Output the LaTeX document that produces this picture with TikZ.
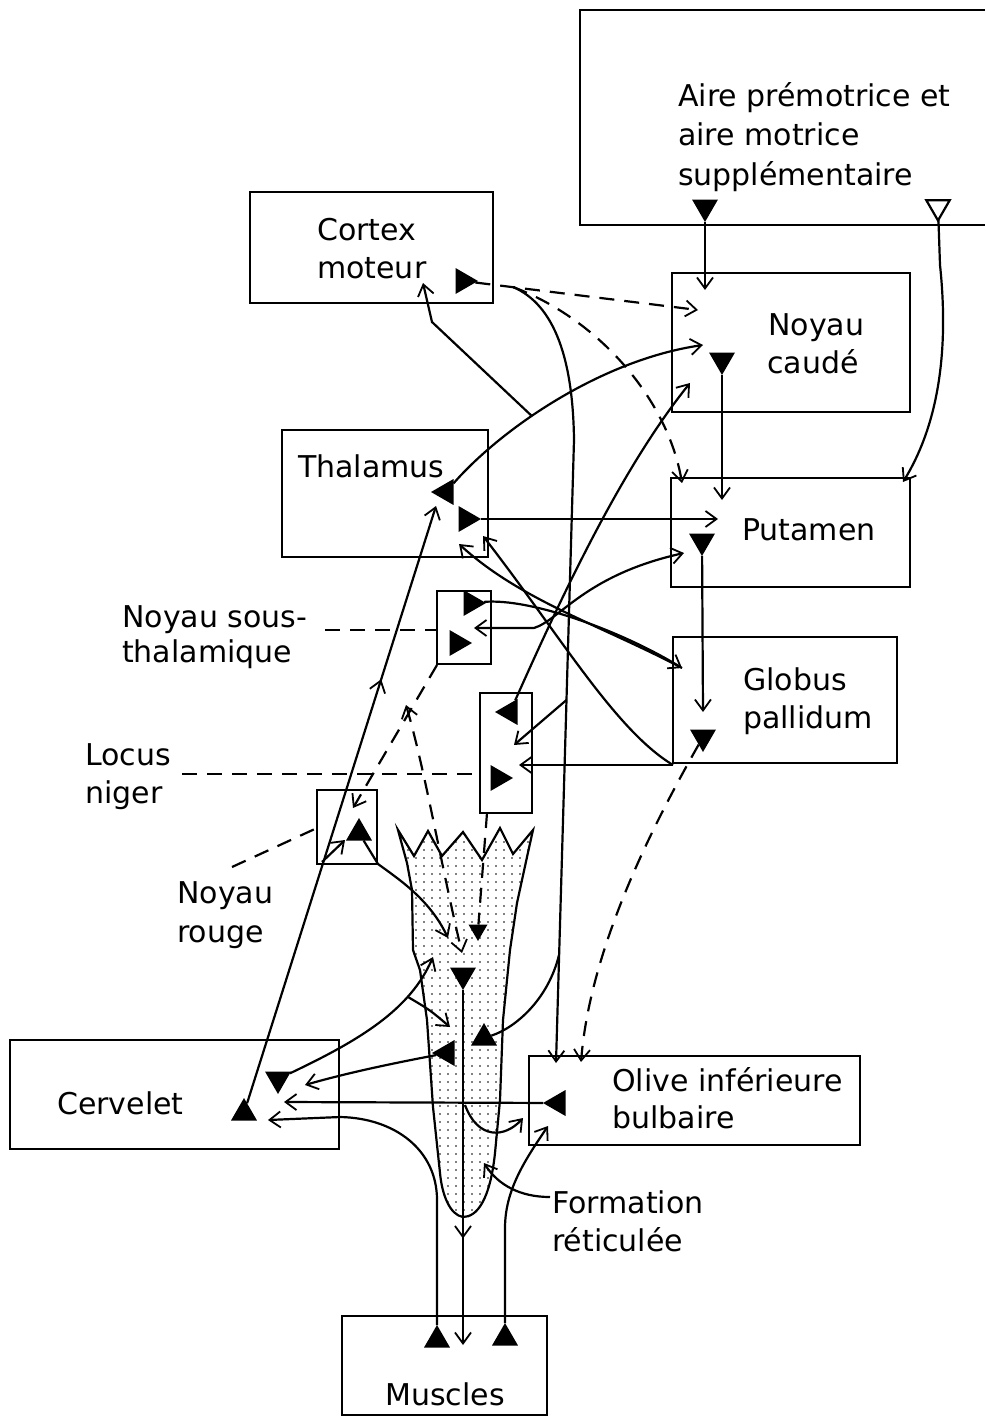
\documentclass[tikz,border=0pt]{standalone}
\usepackage{fontspec}
\setmainfont{DejaVu Sans}
\usetikzlibrary{arrows.meta,shapes.geometric,patterns.meta,decorations.markings}
\newcommand\bxnode[5]{%
  \pgfmathsetmacro\bxcx{(#2+#4)/2}\pgfmathsetmacro\bxcy{(#3+#5)/2}%
  \pgfmathsetmacro\bxw{#4-#2}\pgfmathsetmacro\bxh{#5-#3}%
  \node[box,minimum width=\bxw pt,minimum height=\bxh pt] (#1) at (\bxcx,\bxcy) {};}
\begin{document}
\begin{tikzpicture}[x=1pt,y=-1pt,
  box/.style={draw, line width=2.6pt, inner sep=0pt, outer sep=0pt},
  lbl/.style={font=\fontsize{30}{38}\selectfont, inner sep=0pt, anchor=base west},
  tip/.tip={Straight Barb[length=11pt,width=16pt,line width=1.8pt]},
  conn/.style={line width=2.2pt, -tip},
  conn2/.style={line width=2.2pt, tip-tip},
  plain/.style={line width=2.2pt},
  dsh/.style={dash pattern=on 15pt off 10pt},
  midarr/.style={postaction={decorate, decoration={markings, mark=at position #1 with {\arrow{tip}}}}},
  ftri/.style={regular polygon, regular polygon sides=3, fill=black, minimum size=30pt, inner sep=0pt, outer sep=0pt},
  htri/.style={regular polygon, regular polygon sides=3, draw, line width=2.2pt, fill=white, minimum size=27pt, inner sep=0pt, outer sep=0pt},
  down/.style={regular polygon rotate=180},
  left/.style={regular polygon rotate=90},
  right/.style={regular polygon rotate=-90},
]
\useasboundingbox (0,0) rectangle (985,1418);

% ---------- boxes ----------
\draw[line width=2.6pt] (985,10) -- (580,10) -- (580,225) -- (985,225);
\bxnode{cortex}{250}{192}{493}{303}
\bxnode{caude}{672}{273}{910}{412}
\bxnode{putamen}{671}{478}{910}{587}
\bxnode{thal}{282}{430}{488}{557}
\bxnode{globus}{673}{637}{897}{763}
\bxnode{stn}{437}{591}{491}{664}
\bxnode{ln}{480}{693}{532}{813}
\bxnode{nr}{317}{790}{377}{864}
\bxnode{cerv}{10}{1040}{339}{1149}
\bxnode{olive}{529}{1056}{860}{1145}
\bxnode{muscles}{342}{1316}{547}{1415}

% ---------- formation reticulee ----------
\draw[line width=2.2pt, pattern={Dots[distance=8pt,radius=0.9pt]}]
  (398,830) -- (414,856) -- (428,831) -- (442,856) -- (463,832) -- (482,860)
  -- (500,828) -- (513,854) -- (533,830) -- (527,857) -- (517,903) -- (510,950)
  -- (503,1020) -- (500,1100) -- (495,1153) .. controls (490,1200) and (477,1217) .. (463,1217)
  .. controls (450,1215) and (442,1195) .. (440,1173) -- (433,1107) -- (427,1020)
  -- (420,970) -- (413,950) -- (412,890) -- (407,863) -- cycle;

% ---------- triangles ----------
\node[ftri,down] (t1) at (705,207) {};
\node[htri,down] (t2) at (938,207) {};
\node[ftri,right] (t3) at (463,281) {};
\node[ftri,down] (t4) at (722,360) {};
\node[ftri,left] (t5) at (446,492) {};
\node[ftri,right] (t6) at (466,519) {};
\node[ftri,down] (t7) at (702,541) {};
\node[ftri,right] (t8) at (471,603) {};
\node[ftri,right] (t9) at (457,643) {};
\node[ftri,left] (t10) at (510,712) {};
\node[ftri,right] (t11) at (498,778) {};
\node[ftri,down] (t12) at (703,737) {};
\node[ftri,regular polygon rotate=120] (t13) at (359,833) {};
\node[ftri] (t14) at (244,1113) {};
\node[ftri,down] (t15) at (278,1079) {};
\node[ftri,down] (t16) at (463,975) {};
\node[ftri,left] (t17) at (447,1053) {};
\node[ftri] (t18) at (484,1038) {};
\node[ftri,left] (t19) at (558,1103) {};
\node[ftri] (t20) at (437,1340) {};
\node[ftri] (t21) at (505,1338) {};
\node[ftri,down,minimum size=22pt] (t22) at (478,930) {};

% ---------- coordinates ----------
\coordinate (c1e) at (705,290);
\coordinate (c2a) at (940,265);
\coordinate (c2e) at (903,482);
\coordinate (c3e) at (698,310);
\coordinate (j1) at (513,287);
\coordinate (c4e) at (682,483);
\coordinate (eA) at (574,440);
\coordinate (c5e) at (556,1063);
\coordinate (eLN) at (566.5,700);
\coordinate (eRF) at (559,955);
\coordinate (c6e) at (703,345);
\coordinate (c7m) at (432,322);
\coordinate (c7e) at (423,283);
\coordinate (c8e) at (718,519);
\coordinate (c9e) at (690,383);
\coordinate (c10e) at (703,712);
\coordinate (c11e) at (722,500);
\coordinate (c12e) at (682,668);
\coordinate (c13a) at (474,628);
\coordinate (c13m) at (534,628);
\coordinate (c13e) at (684,553);
\coordinate (c14a) at (673,765);
\coordinate (c14e) at (519,765);
\coordinate (c15e) at (483,536);
\coordinate (c16e) at (459,544);
\coordinate (c17e) at (436,506);
\coordinate (br2) at (322,862);
\coordinate (c18e) at (345,840);
\coordinate (c19a) at (437,665);
\coordinate (c19e) at (353,808);
\coordinate (c20a) at (406,705);
\coordinate (c20e) at (462,953);
\coordinate (c21a) at (487,813);
\coordinate (c22m) at (378,864);
\coordinate (c22e) at (448,938);
\coordinate (c23e) at (463,1345);
\coordinate (c24e) at (433,957);
\coordinate (c33e) at (450,1027);
\coordinate (c25e) at (305,1085);
\coordinate (c26e) at (284,1102);
\coordinate (c27m) at (437,1200);
\coordinate (c27n) at (340,1117);
\coordinate (c27e) at (268,1120);
\coordinate (c28m) at (505,1228);
\coordinate (c28e) at (548,1126);
\coordinate (c29a) at (465,1105);
\coordinate (c29e) at (523,1118);
\coordinate (c31e) at (581,1062);
\coordinate (c32e) at (514,745);
\coordinate (c34a) at (550,1197);
\coordinate (c34e) at (484,1163);
\coordinate (l1a) at (325,630);
\coordinate (l1b) at (437,630);
\coordinate (l2a) at (182,774);
\coordinate (l2b) at (480,774);
\coordinate (l3a) at (232,867);
\coordinate (l3b) at (317,828);

% ---------- connectors ----------
\draw[conn] (t1) -- (c1e);
\draw[conn] (t2) -- (c2a) .. controls (950,360) and (935,430) .. (c2e);
\draw[conn,dsh] (t3) -- (c3e);
\draw[conn,dsh] (j1) .. controls (600,320) and (668,400) .. (c4e);
\draw[conn] (j1) .. controls (555,305) and (573,360) .. (eA) -- (c5e);
\draw[conn] (t5) .. controls (500,430) and (600,360) .. coordinate[pos=0.4] (br) (c6e);
\draw[conn] (br) -- (c7m) -- (c7e);
\draw[conn] (t6) -- (c8e);
\draw[conn] (t10) .. controls (560,600) and (620,470) .. (c9e);
\draw[conn] (t7) -- (c10e);
\draw[conn] (t4) -- (c11e);
\draw[conn] (t8) .. controls (530,598) and (620,630) .. (c12e);
\draw[conn2] (c13a) -- (c13m) .. controls (560,620) and (585,575) .. (c13e);
\draw[conn] (c14a) -- (c14e);
\draw[conn] (c14a) .. controls (615,730) and (560,635) .. (c15e);
\draw[conn] (c12e) .. controls (600,625) and (520,600) .. (c16e);
\draw[conn,midarr=0.71] (t14) -- (c17e);
\draw[conn] (br2) -- (c18e);
\draw[conn,dsh] (c19a) -- (c19e);
\draw[conn2,dsh] (c20a) .. controls (425,770) and (440,860) .. (c20e);
\draw[plain,dsh] (c21a) -- (t22);
\draw[conn] (t13) -- (c22m) .. controls (400,880) and (430,900) .. (c22e);
\draw[conn,midarr=0.7] (t16) -- (c23e);
\draw[conn] (t15) .. controls (360,1040) and (410,1010) .. coordinate[pos=0.72] (br3) (c24e);
\draw[conn] (br3) .. controls (430,1010) .. (c33e);
\draw[conn] (t17) .. controls (400,1062) and (350,1072) .. (c25e);
\draw[conn] (t19) -- (c26e);
\draw[conn] (t20) -- (c27m) .. controls (437,1150) and (395,1118) .. (c27n) -- (c27e);
\draw[conn] (t21) -- (c28m) .. controls (505,1190) and (525,1160) .. (c28e);
\draw[conn] (c29a) .. controls (478,1140) and (505,1138) .. (c29e);
\draw[plain] (eRF) .. controls (548,1000) and (515,1028) .. (t18);
\draw[conn,dsh] (t12) .. controls (650,830) and (590,950) .. (c31e);
\draw[conn] (eLN) -- (c32e);
\draw[conn] (c34a) .. controls (520,1197) and (498,1185) .. (c34e);
\draw[plain,dsh] (l1a) -- (l1b);
\draw[plain,dsh] (l2a) -- (l2b);
\draw[plain,dsh] (l3a) -- (l3b);

% ---------- texts ----------
\node[lbl] (aire1) at (678,107) {Aire prémotrice et};
\node[lbl] (aire2) at (678,146) {aire motrice};
\node[lbl] (aire3) at (678,185) {supplémentaire};
\node[lbl] (ctx1) at (317,240) {Cortex};
\node[lbl] (ctx2) at (317,278) {moteur};
\node[lbl] (nc1) at (768,335) {Noyau};
\node[lbl] (nc2) at (767,373) {caudé};
\node[lbl] (th1) at (298,477) {Thalamus};
\node[lbl] (pu1) at (742,540) {Putamen};
\node[lbl] (gp1) at (743,690) {Globus};
\node[lbl] (gp2) at (743,728) {pallidum};
\node[lbl] (ns1) at (122,627) {Noyau sous-};
\node[lbl] (ns2) at (122,662) {thalamique};
\node[lbl] (lo1) at (85,765) {Locus};
\node[lbl] (lo2) at (85,803) {niger};
\node[lbl] (nr1) at (177,903) {Noyau};
\node[lbl] (nr2) at (177,942) {rouge};
\node[lbl] (ce1) at (57,1114) {Cervelet};
\node[lbl] (ol1) at (612,1091) {Olive inférieure};
\node[lbl] (ol2) at (612,1128) {bulbaire};
\node[lbl] (rf1) at (552,1213) {Formation};
\node[lbl] (rf2) at (552,1251) {réticulée};
\node[lbl] (mu1) at (385,1405) {Muscles};
\end{tikzpicture}
\end{document}
